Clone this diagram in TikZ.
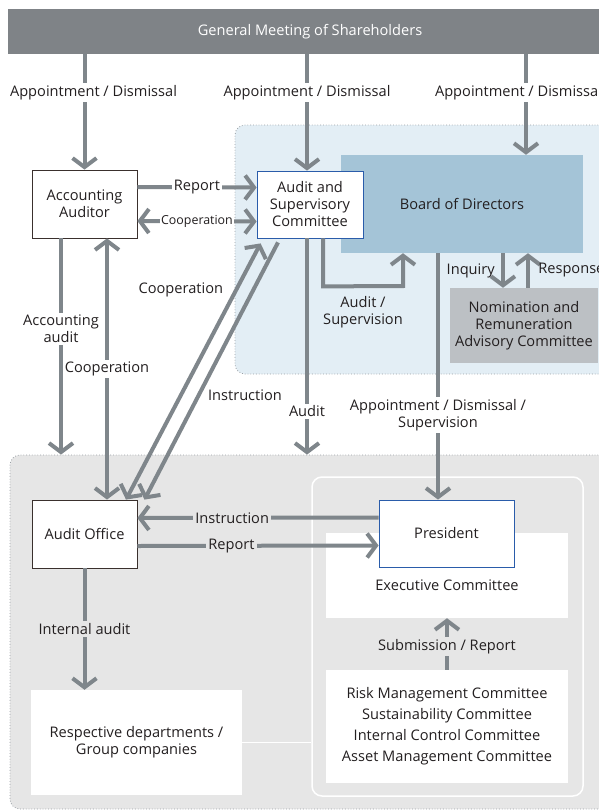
\documentclass[tikz,border=0pt]{standalone}
\usepackage{fontspec}
\setmainfont{Open Sans}
\usetikzlibrary{arrows.meta}

\definecolor{gmgray}{HTML}{7F8387}
\definecolor{arrgray}{HTML}{7F868B}
\definecolor{blueback}{HTML}{E3EEF5}
\definecolor{boardblue}{HTML}{A4C4D7}
\definecolor{nomgray}{HTML}{BCC0C4}
\definecolor{grayback}{HTML}{E6E6E6}
\definecolor{dotgray}{HTML}{9AA0A5}
\definecolor{txt}{HTML}{231F20}
\definecolor{ascblue}{HTML}{2A5CAA}
\definecolor{boxline}{HTML}{3A302D}

\begin{document}
\begin{tikzpicture}[x=1pt,y=-1pt,
  every node/.style={text=txt, font=\fontsize{14.6}{17}\selectfont},
  box/.style={draw=boxline, line width=0.8pt, fill=white, align=center,
    minimum width=105pt, minimum height=68pt, inner sep=0pt},
  bluebox/.style={box, draw=ascblue},
  arr/.style={draw=arrgray, line width=4pt, -{Straight Barb[length=9pt,width=24pt]}},
  arrboth/.style={arr, {Straight Barb[length=9pt,width=24pt]}-{Straight Barb[length=9pt,width=24pt]}},
  lbl/.style={fill=white, inner sep=2pt, align=center},
  region/.style={draw=dotgray, dotted, line width=0.8pt, rounded corners=10pt, inner sep=0pt}
]
\useasboundingbox (0,0) rectangle (598,811);

% ===== regions =====
\node[region, fill=blueback, minimum width=390pt, minimum height=249pt] (bluereg) at (430,249.5) {};
\node[region, fill=grayback, minimum width=615pt, minimum height=354pt] (grayreg) at (317.5,632) {};
\node[draw=white, line width=1.5pt, rounded corners=10pt, inner sep=0pt,
  minimum width=271pt, minimum height=319pt] (execarea) at (447.5,636.5) {};

% ===== boxes =====
\node[fill=gmgray, text=white, minimum width=604pt, minimum height=45pt] (gm) at (310,31.5) {General Meeting of Shareholders};

\node[box] (acc) at (84.5,204) {Accounting\\Auditor};
\node[fill=boardblue, minimum width=242pt, minimum height=98pt] (bod) at (462,204) {Board of Directors};
\node[bluebox, minimum width=106pt, minimum height=67pt] (asc) at (310,204.5) {Audit and\\Supervisory\\Committee};
\node[fill=nomgray, align=center, minimum width=148pt, minimum height=75pt] (nom) at (524,325.5)
  {Nomination and\\Remuneration\\Advisory Committee};

\node[box] (aof) at (84.5,534) {Audit Office};
\node[fill=white, minimum width=242pt, minimum height=85pt] (exec) at (447,575.5) {};
\node (exectxt) at (447,585) {Executive Committee};
\node[bluebox, minimum width=135pt, minimum height=67pt] (pres) at (446.5,533.5) {President};
\node[fill=white, align=center, minimum width=242pt, minimum height=113pt,
  font=\fontsize{14.6}{21}\selectfont] (comm) at (447,726.5)
  {Risk Management Committee\\Sustainability Committee\\Internal Control Committee\\Asset Management Committee};
\node[fill=white, align=center, minimum width=211pt, minimum height=105pt] (dept) at (136.5,742.5)
  {Respective departments /\\Group companies};

% ===== general meeting =====
\coordinate (ascin) at ([xshift=-3pt]asc.north);
\coordinate (bodin) at ([xshift=64pt]bod.north);
\draw[arr] (gm.south -| acc.north) -- node[lbl, pos=0.33, xshift=9pt] {Appointment / Dismissal} (acc.north);
\draw[arr] (ascin |- gm.south) -- node[lbl, pos=0.33] {Appointment / Dismissal} (ascin);
\draw[arr] (bodin |- gm.south) -- node[lbl, pos=0.38, xshift=-7.5pt] {Appointment / Dismissal} (bodin);

% ===== accounting auditor =====
\draw[arr] ([yshift=17pt]acc.east) -- node[lbl] {Report} ([yshift=17pt]asc.west);
\draw[arrboth] ([yshift=-17pt]acc.east) -- node[lbl, inner sep=1pt, font=\fontsize{12.4}{14}\selectfont] {Cooperation} ([yshift=-17pt]asc.west);
\coordinate (accaud) at ([xshift=-23.5pt]acc.south);
\draw[arr] (accaud) -- node[lbl, pos=0.42] {Accounting\\audit} (accaud |- grayreg.north);
\draw[arrboth] ([xshift=22.5pt]acc.south) -- node[lbl, pos=0.5] {Cooperation} ([xshift=22.5pt]aof.north);

% ===== audit and supervisory committee =====
\draw[arrboth] ([xshift=41.5pt]aof.north) -- node[pos=0.82, left=8pt] {Cooperation} ([xshift=4pt,yshift=-5pt]asc.south west);
\draw[arr] ([xshift=-32pt,yshift=-4pt]asc.south) -- node[pos=0.593, right=4pt] {Instruction} ([xshift=60pt]aof.north);
\coordinate (ascaud) at ([xshift=-3pt]asc.south);
\draw[arr] (ascaud) -- node[lbl, pos=0.8] {Audit} (ascaud |- grayreg.north);
\coordinate (audsup) at ([xshift=-59pt]bod.south);
\draw[arr] ([xshift=13pt]asc.south) -- ++(0,48) -- node[below=5pt, align=center] {Audit /\\Supervision} (audsup |- 0,286) -- (audsup);

% ===== board of directors =====
\coordinate (bodout) at ([xshift=-24pt]bod.south);
\draw[arr] (bodout) -- node[lbl, pos=0.656] {Appointment / Dismissal /\\Supervision} (bodout |- pres.north);
\coordinate (inq) at ([xshift=-21pt]nom.north);
\coordinate (resp) at ([xshift=4pt]nom.north);
\draw[arr] (inq |- bod.south) -- node[left=3pt] {Inquiry} (inq);
\draw[arr] (resp) -- node[right=5pt] {Response} (resp |- bod.south);

% ===== audit office =====
\draw[arr] ([yshift=16pt]pres.west) -- node[lbl, fill=grayback, pos=0.607] {Instruction} ([yshift=16pt]aof.east);
\draw[arr] ([yshift=-12pt]aof.east) -- node[lbl, fill=grayback, pos=0.39] {Report} ([yshift=-12pt]pres.west);
\draw[arr] (aof.south) -- node[lbl, fill=grayback, pos=0.5] {Internal audit} (aof.south |- dept.north);

% ===== committees =====
\draw[arr] (comm.north) -- node[lbl, fill=grayback, pos=0.45] {Submission / Report} (exec.south);
\draw[white, line width=1.5pt] (dept.east) -- (dept.east -| execarea.west);

\end{tikzpicture}
\end{document}
